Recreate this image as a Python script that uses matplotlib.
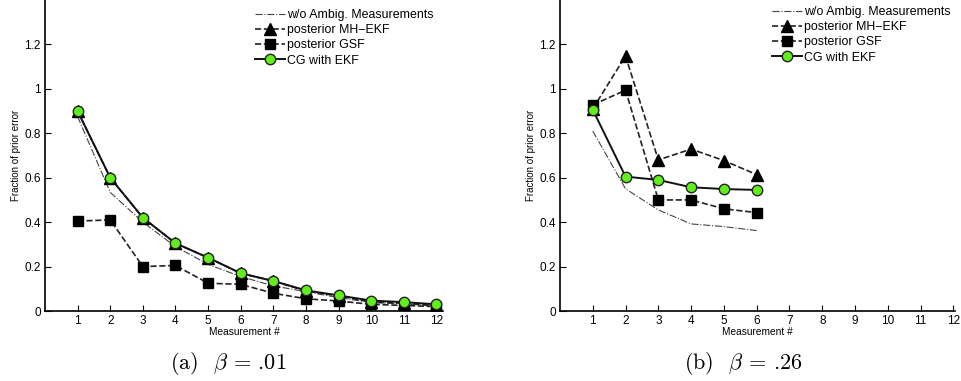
import numpy as np
import matplotlib
matplotlib.use("Agg")
import matplotlib.pyplot as plt

plt.rcParams['font.family'] = ['Liberation Sans', 'DejaVu Sans']
plt.rcParams['mathtext.fontset'] = 'cm'

# data
meas_a = [1, 2, 3, 4, 5, 6, 7, 8, 9, 10, 11, 12]
wo_a = [0.875, 0.534, 0.40, 0.29, 0.21, 0.155, 0.113, 0.087, 0.06, 0.038, 0.032, 0.022]
mh_a = [0.90, 0.60, 0.42, 0.305, 0.24, 0.17, 0.135, 0.09, 0.068, 0.04, 0.035, 0.025]
gsf_a = [0.405, 0.41, 0.20, 0.205, 0.125, 0.12, 0.08, 0.055, 0.045, 0.03, 0.025, 0.02]
cg_a = [0.90, 0.60, 0.42, 0.305, 0.24, 0.17, 0.135, 0.093, 0.07, 0.047, 0.04, 0.03]

meas_b = [1, 2, 3, 4, 5, 6]
wo_b = [0.81, 0.55, 0.455, 0.392, 0.38, 0.362]
mh_b = [0.91, 1.148, 0.68, 0.729, 0.677, 0.614]
gsf_b = [0.928, 0.994, 0.50, 0.50, 0.46, 0.443]
cg_b = [0.906, 0.605, 0.59, 0.557, 0.549, 0.545]

labels = ['w/o Ambig. Measurements', 'posterior MH\u2212EKF', 'posterior GSF', 'CG with EKF']
captions = [r'(a)  $\beta$ = .01', r'(b)  $\beta$ = .26']
green = '#62ee1c'

fig = plt.figure(figsize=(9.61, 3.81), dpi=100)
ax1 = fig.add_axes([0.0468, 0.1837, 0.4142, 0.8163])
ax2 = fig.add_axes([0.5827, 0.1837, 0.4111, 0.8163])

# (axes, x, series..., xmax, caption x, legend anchor x, legend anchor y) in figure fractions
panels = [(ax1, meas_a, wo_a, mh_a, gsf_a, cg_a, 12.2, 228 / 961, 255 / 961, 1 - 9 / 381),
          (ax2, meas_b, wo_b, mh_b, gsf_b, cg_b, 12.05, 743 / 961, 772 / 961, 1 - 6 / 381)]

for i, (ax, x, wo, mh, gsf, cg, xmax, cx, lx, ly) in enumerate(panels):
    ax.plot(x, wo, linestyle='-.', color='#444444', lw=0.8, label=labels[0])
    ax.plot(x, mh, linestyle='--', color='#222222', lw=1.2, marker='^',
            markersize=8, markerfacecolor='black', markeredgecolor='black', label=labels[1])
    ax.plot(x, gsf, linestyle='--', color='#222222', lw=1.2, marker='s',
            markersize=6.5, markerfacecolor='black', markeredgecolor='black', label=labels[2])
    ax.plot(x, cg, linestyle='-', color='#111111', lw=1.4, marker='o',
            markersize=7.5, markerfacecolor=green, markeredgecolor='#222222',
            markeredgewidth=1.0, label=labels[3])

    ax.set_xlim(0, xmax)
    ax.set_ylim(0, 1.4)
    ax.set_xticks(range(1, 13))
    ax.set_yticks([0, 0.2, 0.4, 0.6, 0.8, 1, 1.2])
    ax.set_yticklabels(['0', '0.2', '0.4', '0.6', '0.8', '1', '1.2'])
    ax.tick_params(direction='in', length=4, width=0.8, labelsize=8.5, pad=3)
    for s in ['top', 'right']:
        ax.spines[s].set_visible(False)
    for s in ['left', 'bottom']:
        ax.spines[s].set_linewidth(1.2)
    ax.set_xlabel('Measurement #', fontsize=7.3, labelpad=0)
    ax.set_ylabel('Fraction of prior error', fontsize=7, labelpad=2.5)
    ax.legend(loc='upper left', frameon=False, fontsize=8.9, handlelength=2.4,
              handletextpad=0.2, labelspacing=0.26, borderpad=0, borderaxespad=0,
              bbox_to_anchor=(lx, ly), bbox_transform=fig.transFigure)
    fig.text(cx, 0.047, captions[i], ha='center', va='center', fontsize=16,
             fontfamily='cmr10')

fig.savefig('out.png', dpi=100)
